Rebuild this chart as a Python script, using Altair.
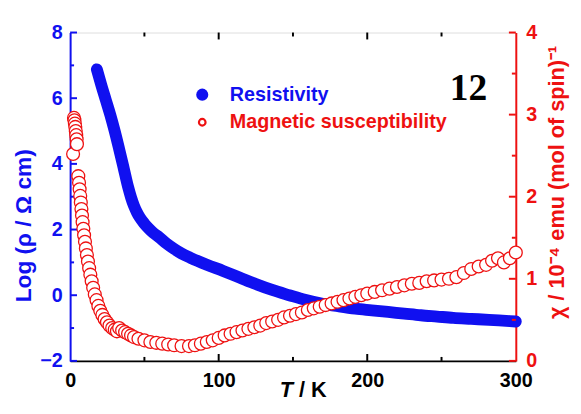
import altair as alt
import pandas as pd

# ---------------- data ----------------
res_T = [18, 21, 24, 27, 30, 33, 36, 39, 41, 43, 45, 47, 50, 53, 56, 60, 65, 70, 75, 81, 92, 103,
         114, 125, 136, 147.5, 158, 170, 181, 192, 203, 214, 225, 236, 247, 258, 270, 282, 296, 300]
res_logrho = [6.88, 6.4, 5.95, 5.5, 5.0, 4.45, 3.88, 3.3, 2.98, 2.72, 2.52, 2.36, 2.18, 2.03, 1.90,
              1.76, 1.57, 1.41, 1.27, 1.14, 0.93, 0.74, 0.54, 0.34, 0.16, 0.0, -0.14, -0.26, -0.34,
              -0.41, -0.46, -0.51, -0.56, -0.61, -0.65, -0.69, -0.72, -0.75, -0.79, -0.8]

chi_T = [2.0, 2.6, 2.9, 3.2, 3.5, 3.8, 4.1, 4.4, 4.6,
         5.5, 6.0, 6.4, 6.8, 7.2, 7.6, 8.0, 8.4, 8.9, 9.4, 10.0, 10.6, 11.3, 12.0, 12.8,
         13.6, 14.5, 15.5, 16.6, 17.8, 19.0, 20.3, 21.7, 23.2, 24.8, 26.5, 28.3, 30.0, 31.5,
         33, 35, 37, 39, 41, 43, 46, 50, 54, 58, 62, 66, 70, 75, 80, 84, 88, 92, 96, 100,
         104, 108, 112, 116, 120, 124, 128, 132, 136, 140, 144, 148, 152, 156, 160, 164,
         168, 172, 176, 180, 184, 188, 192, 196, 200, 205, 210, 215, 220, 225, 230, 235,
         240, 245, 250, 255, 260, 265, 270, 275, 280, 284, 288, 292, 296, 300]
chi_val = [2.52, 2.96, 2.93, 2.89, 2.85, 2.80, 2.75, 2.70, 2.64,
           2.25, 2.17, 2.09, 2.01, 1.93, 1.85, 1.77, 1.69, 1.61, 1.53, 1.45, 1.37, 1.29, 1.21, 1.13,
           1.05, 0.97, 0.89, 0.81, 0.74, 0.67, 0.61, 0.56, 0.51, 0.47, 0.43, 0.40, 0.38, 0.36,
           0.40, 0.37, 0.35, 0.33, 0.31, 0.29, 0.27, 0.25, 0.23, 0.22, 0.21, 0.20, 0.19, 0.18, 0.18,
           0.19, 0.21, 0.23, 0.25, 0.28, 0.31, 0.33, 0.35, 0.37, 0.39, 0.41, 0.43, 0.46, 0.48, 0.50,
           0.53, 0.55, 0.57, 0.59, 0.62, 0.64, 0.66, 0.68, 0.70, 0.72, 0.74, 0.76, 0.78, 0.80,
           0.82, 0.84, 0.86, 0.88, 0.90, 0.92, 0.94, 0.95, 0.97, 0.98, 0.99, 1.00, 1.02, 1.07,
           1.12, 1.15, 1.17, 1.22, 1.25, 1.20, 1.25, 1.32]

x_labels = [0, 100, 200, 300]
x_major = [100, 200]
x_minor = [50, 150, 250]
left_labels = [-2, 0, 2, 4, 6, 8]
left_minor = [-1, 1, 3, 5, 7]
right_labels = [0, 1, 2, 3, 4]
right_minor = [0.5, 1.5, 2.5, 3.5]

# ---------------- style ----------------
W, H = 452, 333
BLUE = "#1010f0"
RED = "#ee1111"
FONT = "Liberation Sans"
FS = 20

xscale = alt.Scale(domain=[0, 300], nice=False, zero=False)
lscale = alt.Scale(domain=[-2, 8], nice=False, zero=False)
rscale = alt.Scale(domain=[0, 4], nice=False, zero=False)

xaxis = alt.Axis(values=x_labels, ticks=False, grid=False, domainColor="black", domainWidth=2,
                 labelColor="black", labelFont=FONT, labelFontWeight="bold", labelFontSize=FS,
                 labelPadding=10, title=None, labelFlush=False)
laxis = alt.Axis(values=left_labels, ticks=False, grid=False, domainColor=BLUE, domainWidth=2,
                 labelColor=BLUE, labelFont=FONT, labelFontWeight="bold", labelFontSize=FS,
                 labelPadding=8, title=None, orient="left", labelFlush=False)
raxis = alt.Axis(values=right_labels, ticks=False, grid=False, domainColor=RED, domainWidth=2,
                 labelColor=RED, labelFont=FONT, labelFontWeight="bold", labelFontSize=FS,
                 labelPadding=10, title=None, orient="right", labelFlush=False)

res_df = pd.DataFrame({"T": res_T, "y": res_logrho})
chi_df = pd.DataFrame({"T": chi_T, "y": chi_val})

res_line = alt.Chart(res_df).mark_line(color=BLUE, strokeWidth=12, strokeCap="round",
                                        strokeJoin="round", interpolate="monotone").encode(
    x=alt.X("T:Q", scale=xscale, axis=xaxis),
    y=alt.Y("y:Q", scale=lscale, axis=laxis),
)

def ytick(values, scale, axis, color, x1, x2):
    return alt.Chart(pd.DataFrame({"y": values})).mark_rule(color=color, strokeWidth=2).encode(
        y=alt.Y("y:Q", scale=scale, axis=axis), x=alt.value(x1), x2=alt.value(x2))

left = alt.layer(
    res_line,
    ytick(left_labels, lscale, laxis, BLUE, 0, 7),
    ytick(left_minor, lscale, laxis, BLUE, 0, 4),
)

chi_pts = alt.Chart(chi_df).mark_point(shape="circle", filled=False, fill="white", fillOpacity=1,
                                       stroke=RED, strokeWidth=1.3, size=170, opacity=1).encode(
    x=alt.X("T:Q", scale=xscale, axis=xaxis),
    y=alt.Y("y:Q", scale=rscale, axis=raxis),
    order=alt.Order("T:Q"),
)

right = alt.layer(
    chi_pts,
    ytick(right_labels, rscale, raxis, RED, W, W - 7),
    ytick(right_minor, rscale, raxis, RED, W, W - 4),
)

def xtick(values, y1, y2):
    return alt.Chart(pd.DataFrame({"T": values})).mark_rule(color="black", strokeWidth=2).encode(
        x=alt.X("T:Q", scale=xscale, axis=xaxis), y=alt.value(y1), y2=alt.value(y2))

def label(text, x, y, color, size=FS, font=FONT, angle=0, align="center", style="normal"):
    return alt.Chart(pd.DataFrame({"t": [text]})).mark_text(
        color=color, font=font, fontSize=size, fontWeight="bold", angle=angle, align=align,
        baseline="middle", fontStyle=style).encode(
        text="t:N", x=alt.value(x), y=alt.value(y))

leg_res = alt.Chart(pd.DataFrame({"t": ["Resistivity"]})).mark_point(
    shape="circle", filled=True, color=BLUE, size=150, opacity=1).encode(
    x=alt.value(134), y=alt.value(63))
leg_chi = alt.Chart(pd.DataFrame({"t": ["Magnetic susceptibility"]})).mark_point(
    shape="circle", filled=False, color=RED, strokeWidth=2.2, size=45, opacity=1).encode(
    x=alt.value(134), y=alt.value(91))

chart = alt.layer(
    left,
    right,
    xtick(x_major, H, H - 7),
    xtick(x_minor, H, H - 4),
    xtick(x_major, 0, 7),
    xtick(x_minor, 0, 4),
    leg_res,
    label("Resistivity", 162, 63, BLUE, align="left"),
    leg_chi,
    label("Magnetic susceptibility", 162, 91, RED, align="left"),
    label("12", 404, 57, "black", size=38, font="Liberation Serif"),
    label("Log (\u03c1 / \u03a9 cm)", -47, 196, BLUE, size=23, angle=270),
    label("\u03c7 / 10\u207b\u2074 emu (mol of spin)\u207b\u00b9", 494, 152, RED, size=22, angle=270),
    label("T", 226, 363, "black", size=22, align="right", style="italic"),
    label("/ K", 232, 363, "black", size=22, align="left"),
).resolve_scale(y="independent").properties(
    width=W, height=H,
    autosize=alt.AutoSizeParams(type="none"),
    padding={"left": 63, "top": 22, "right": 58, "bottom": 52},
).configure_view(stroke="black", strokeWidth=2).configure(background="white")

chart.save("out.html", embed_options={"renderer": "svg", "actions": False})
